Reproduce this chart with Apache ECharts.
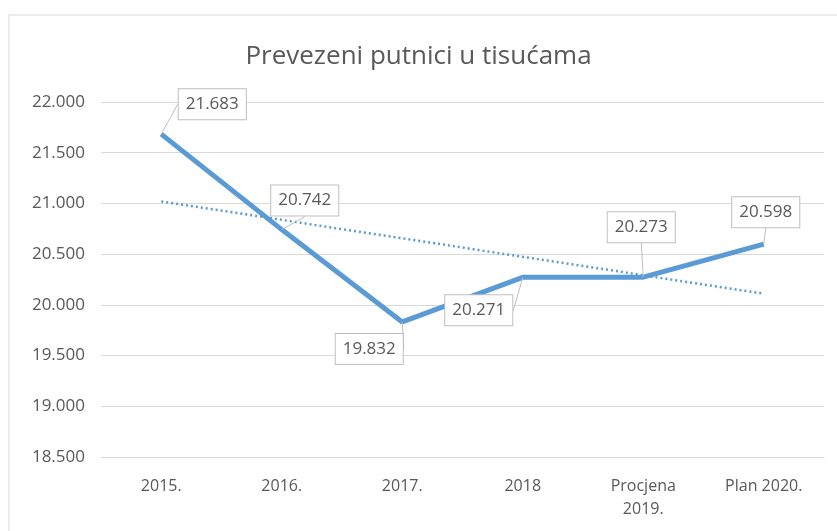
<!DOCTYPE html>
<html>
<head>
<meta charset="utf-8">
<script src="https://cdn.jsdelivr.net/npm/echarts@6/dist/echarts.min.js"></script>
<style>
  html, body { margin: 0; padding: 0; background: #fff; }
  #chart { width: 837px; height: 531px; }
</style>
</head>
<body>
<div id="chart"></div>
<script>
const categories = ['2015.', '2016.', '2017.', '2018', 'Procjena\n2019.', 'Plan 2020.'];
const passengers = [21683, 20742, 19832, 20271, 20273, 20598];
// dotted trend line, ends
const trend = [21020, null, null, null, null, 20110];
const yTicks = { min: 18500, max: 22000, interval: 500 };

// where each callout box sits relative to its point
const labelShift = [[51, -30], [23, -29], [-33, 27], [-44, 33], [-2, -50], [2, -32]];

const fmt = v => (v / 1000).toFixed(3);
const textColor = '#595959';
const fontFamily = '"Open Sans", "Noto Sans", sans-serif';

var chart = echarts.init(document.getElementById('chart'));

var option = {
  animation: false,
  backgroundColor: '#fff',
  graphic: [{
    type: 'rect',
    shape: { x: 9, y: 15, width: 900, height: 600 },
    style: { fill: 'none', stroke: '#d9d9d9', lineWidth: 1 },
    silent: true
  }],
  title: {
    text: 'Prevezeni putnici u tisućama',
    left: 'center',
    top: 39,
    textStyle: { color: textColor, fontSize: 26, fontWeight: 'normal', fontFamily: fontFamily }
  },
  grid: { left: 101, right: 13, top: 102, bottom: 74 },
  xAxis: {
    type: 'category',
    data: categories,
    boundaryGap: true,
    axisLine: { lineStyle: { color: '#d9d9d9', width: 1 } },
    axisTick: { show: false },
    axisLabel: { color: textColor, fontSize: 16, fontFamily: fontFamily, margin: 18, lineHeight: 23, interval: 0 }
  },
  yAxis: {
    type: 'value',
    min: yTicks.min,
    max: yTicks.max,
    interval: yTicks.interval,
    axisLine: { show: false },
    axisTick: { show: false },
    splitLine: { lineStyle: { color: '#d9d9d9', width: 1 } },
    axisLabel: { color: textColor, fontSize: 17, fontFamily: fontFamily, margin: 16, formatter: fmt }
  },
  series: [
    {
      name: 'trend',
      type: 'line',
      data: trend,
      connectNulls: true,
      symbol: 'none',
      silent: true,
      lineStyle: { color: '#5b9bd5', width: 2.5, type: [2, 3] },
      z: 1
    },
    {
      name: 'putnici',
      type: 'line',
      data: passengers,
      symbol: 'circle',
      symbolSize: 0.1,
      showSymbol: true,
      itemStyle: { color: '#5b9bd5' },
      lineStyle: { color: '#5b9bd5', width: 5 },
      z: 2,
      label: {
        show: true,
        position: 'inside',
        formatter: p => fmt(p.value),
        color: textColor,
        fontSize: 17,
        fontFamily: fontFamily,
        backgroundColor: '#fff',
        borderColor: '#bfbfbf',
        borderWidth: 1,
        padding: [7, 7, 6, 7]
      },
      labelLine: { show: true, lineStyle: { color: '#bfbfbf', width: 1 } },
      labelLayout: function (params) {
        var s = labelShift[params.dataIndex];
        return { dx: s[0], dy: s[1] };
      }
    }
  ]
};

option && chart.setOption(option);
</script>
</body>
</html>
